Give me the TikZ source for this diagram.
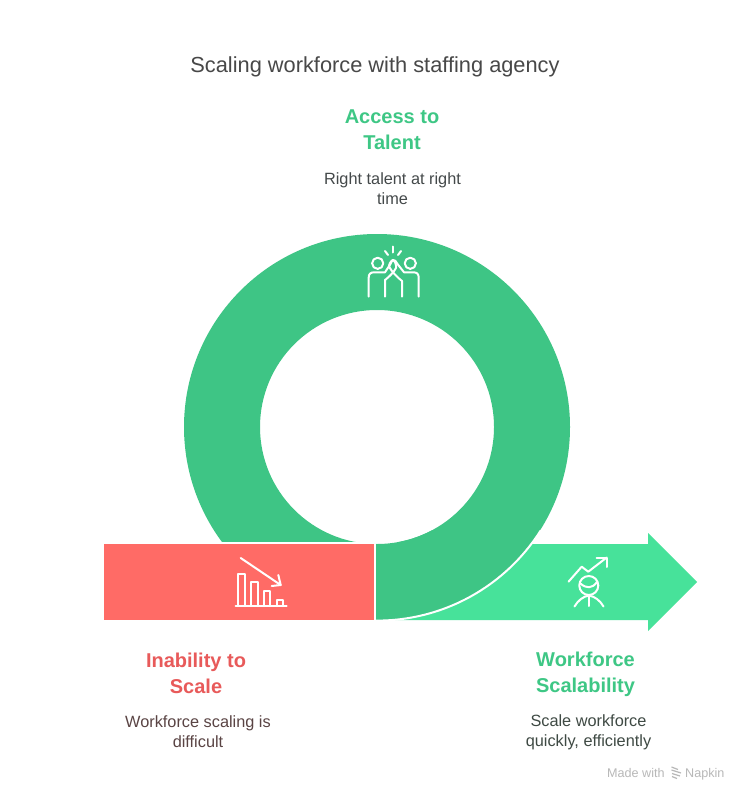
\documentclass[tikz,border=0pt]{standalone}
\usepackage{fontspec}
\setmainfont{Liberation Sans}
\definecolor{ringgreen}{HTML}{3EC585}
\definecolor{arrowgreen}{HTML}{47E29A}
\definecolor{redbar}{HTML}{FF6B66}
\definecolor{greenhead}{HTML}{3EC785}
\definecolor{redhead}{HTML}{E85A5A}
\definecolor{titlegray}{HTML}{484848}
\definecolor{descgray}{HTML}{44494A}
\definecolor{descred}{HTML}{5A4444}
\definecolor{descgreen}{HTML}{3F4A44}
\definecolor{marktext}{HTML}{B8B8B8}
\tikzset{
  icon/.style={draw=white,line width=2pt,line cap=round,line join=round,fill=none},
  head/.style={font=\fontsize{20}{26}\selectfont\bfseries,align=center,anchor=center,inner sep=0pt},
  desc/.style={font=\fontsize{16.3}{20}\selectfont,align=center,anchor=center,inner sep=0pt},
}
\begin{document}
\begin{tikzpicture}[x=1pt,y=-1pt]
\useasboundingbox[fill=white] (0,0) rectangle (750,802);
% arrow
\fill[arrowgreen] (380,544) -- (648,544) -- (648,533) -- (697,582) -- (648,631) -- (648,620) -- (380,620) -- cycle;
% ring, upper and left portion
\begin{scope}
\clip (150,200) rectangle (600,541);
\fill[ringgreen,even odd rule] (377,427) circle[radius=193] (377,427) circle[radius=117];
\end{scope}
% ring, lower right portion
\begin{scope}
\clip (376,530) rectangle (600,640);
\fill[ringgreen,even odd rule] (377,427) circle[radius=193] (377,427) circle[radius=117];
\draw[white,line width=2pt] (377,427) circle[radius=193.6];
\end{scope}
% red bar
\fill[redbar] (104,544) rectangle (374,620);
% icon: high five
\draw[icon] (377.7,263.3) circle[radius=5.6];
\draw[icon] (410.3,263.3) circle[radius=5.6];
\draw[icon] (368.7,296.7) -- (368.7,277.5) .. controls (368.7,274) and (370.5,272.3) .. (374,272.3) -- (385,272.3) -- (390.5,264) .. controls (391.5,261) and (392.5,260) .. (393,260) .. controls (395,261) and (396.5,265) .. (396,268) .. controls (394,272) and (389,277) .. (385,280) -- (385,296.7);
\draw[icon] (418.7,296.7) -- (418.7,277.5) .. controls (418.7,274) and (416.9,272.3) .. (413.5,272.3) -- (404,272.3) -- (397.5,264) .. controls (396.5,261) and (394.5,260) .. (393,260) .. controls (390.5,261) and (388.5,265) .. (389.3,267) .. controls (392,272) and (397,277) .. (402,281) -- (402,296.7);
\draw[icon] (393,246.5) -- (393,252.5);
\draw[icon] (385,251) -- (388,255);
\draw[icon] (401,251) -- (398,255);
% icon: decline
\draw[icon] (240.7,558) -- (280.7,585);
\draw[icon] (278.3,575) -- (280.7,585) -- (271.7,586);
\draw[icon] (235.7,606) -- (286.7,606);
\draw[icon] (238,606) -- (238,573.5) -- (245,573.5) -- (245,606);
\draw[icon] (251.3,606) -- (251.3,582) -- (257.7,582) -- (257.7,606);
\draw[icon] (264.3,606) -- (264.3,591) -- (270.3,591) -- (270.3,606);
\draw[icon] (277,606) -- (277,599.5) -- (283,599.5) -- (283,606);
% icon: growth
\draw[icon] (568.5,581.7) -- (581.7,566.7) -- (588.3,571.7) -- (606.7,557.5);
\draw[icon] (596.7,557.5) -- (606.7,557.5) -- (606.7,567);
\draw[icon] (588.8,585.5) circle[radius=9.5];
\draw[icon] (580.5,583.5) .. controls (586,588.5) and (592,589) .. (597,582);
\draw[icon] (588.8,595.5) -- (588.8,606);
\draw[icon] (574.5,606.5) .. controls (578,600.5) and (583,596.5) .. (588.8,595.5) .. controls (595,596.5) and (600,600.5) .. (603.5,606.5);
% texts
\node[inner sep=0pt,text=titlegray,font=\fontsize{21.8}{26}\selectfont] (title) at (375,66.5) {Scaling workforce with staffing agency};
\node[head,text=greenhead] (accesshead) at (392,130) {Access to\\Talent};
\node[desc,text=descgray] (accessdesc) at (392.5,188.5) {Right talent at right\\time};
\node[head,text=redhead] (inabilityhead) at (196,673) {Inability to\\Scale};
\node[desc,text=descred] (inabilitydesc) at (198,731.5) {Workforce scaling is\\difficult};
\node[head,text=greenhead] (scalehead) at (585.5,674.5) {Workforce\\Scalability};
\node[desc,text=descgreen] (scaledesc) at (588.5,732.5) {Scale workforce\\quickly, efficiently};
% watermark
\node[inner sep=0pt,anchor=base west,text=marktext,font=\fontsize{12.6}{14}\selectfont] (madewith) at (607,777) {Made with};
\node[inner sep=0pt,anchor=base west,text=marktext,font=\fontsize{12.6}{14}\selectfont] (napkin) at (685,777) {Napkin};
\draw[marktext,line width=1.2pt] (671.5,767) -- (678,769.5) (671.5,770) -- (681,773) (672,773.5) -- (680,776) (672,776.5) -- (677,778.5);
\end{tikzpicture}
\end{document}
